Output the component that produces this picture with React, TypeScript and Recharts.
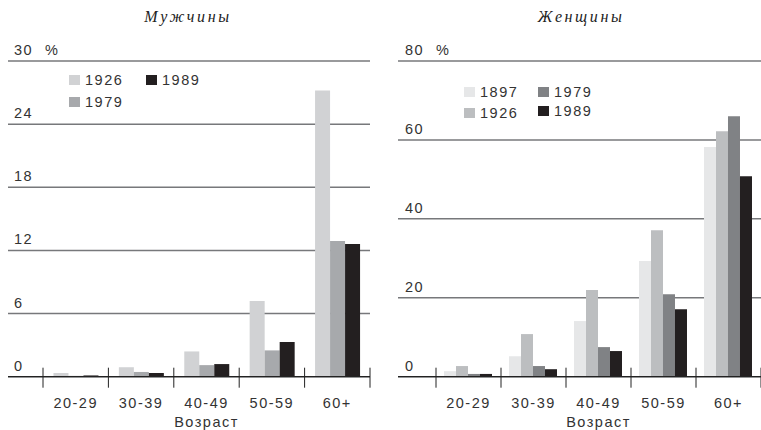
import React from 'react';
import { Bar, BarChart, CartesianGrid, XAxis, YAxis } from 'recharts';

const ageGroups = ['20-29', '30-39', '40-49', '50-59', '60+'];

// men, % by age group
const men1926 = [0.35, 0.9, 2.4, 7.2, 27.2];
const men1979 = [0.08, 0.45, 1.1, 2.5, 12.9];
const men1989 = [0.12, 0.35, 1.2, 3.3, 12.6];

// women, % by age group
const women1897 = [1.4, 5.2, 14.1, 29.3, 58.2];
const women1926 = [2.7, 10.8, 22.0, 37.1, 62.2];
const women1979 = [0.7, 2.7, 7.5, 20.9, 66.0];
const women1989 = [0.7, 1.9, 6.5, 17.1, 50.8];

const menTicks = [0, 6, 12, 18, 24, 30];
const womenTicks = [0, 20, 40, 60, 80];

const menData = ageGroups.map((age, i) => ({
  age,
  y1926: men1926[i],
  y1979: men1979[i],
  y1989: men1989[i],
}));

const womenData = ageGroups.map((age, i) => ({
  age,
  y1897: women1897[i],
  y1926: women1926[i],
  y1979: women1979[i],
  y1989: women1989[i],
}));

const H = 430;
const TOP = 61;
const AXIS_H = 53.3;
const AXIS_Y = H - AXIS_H;
const SANS = '"Liberation Sans", Arial, sans-serif';
const INK = '#333';

type TSeries = { key: string; name: string; color: string; lx: number; ly: number };

type TPanelProps = {
  title: string;
  titleX: number;
  left: number;
  width: number;
  marginRight: number;
  padLeft: number;
  labelX: number;
  ticks: number[];
  data: Record<string, string | number>[];
  series: TSeries[];
  gap: string;
};

const Panel = (p: TPanelProps) => {
  const plotW = p.width - 8 - p.marginRight;
  const bw = (plotW - p.padLeft) / ageGroups.length;
  const top = p.ticks[p.ticks.length - 1];

  const yTick = (props: any) => {
    const { y, payload } = props;
    return (
      <g>
        <text x={p.labelX} y={y - 6} fill={INK} fontSize={14.5} fontFamily={SANS} letterSpacing={1.5}>
          {payload.value}
        </text>
        {payload.value === top && (
          <text x={p.labelX + 31} y={y - 6} fill={INK} fontSize={14.5} fontFamily={SANS}>
            %
          </text>
        )}
      </g>
    );
  };

  const xTick = (props: any) => {
    const { x, payload, index } = props;
    return (
      <g>
        <line x1={x - bw / 2} x2={x - bw / 2} y1={AXIS_Y - 9} y2={AXIS_Y + 11} stroke="#222" />
        {index === ageGroups.length - 1 && (
          <line x1={x + bw / 2} x2={x + bw / 2} y1={AXIS_Y - 9} y2={AXIS_Y + 11} stroke="#222" />
        )}
        <text x={x} y={AXIS_Y + 31} textAnchor="middle" fill={INK} fontSize={14.5} fontFamily={SANS} letterSpacing={1.5}>
          {payload.value}
        </text>
        {index === 2 && (
          <text x={x} y={AXIS_Y + 50} textAnchor="middle" fill={INK} fontSize={14.5} fontFamily={SANS} letterSpacing={1.5}>
            Возраст
          </text>
        )}
      </g>
    );
  };

  return (
    <div style={{ position: 'absolute', left: p.left, top: 0, width: p.width, height: H }}>
      <div
        style={{
          position: 'absolute',
          left: p.titleX - p.left - 80,
          width: 160,
          top: 8,
          textAlign: 'center',
          fontFamily: '"Liberation Serif", "DejaVu Serif", serif',
          fontStyle: 'italic',
          fontSize: 16,
          letterSpacing: 2.6,
          color: '#222',
        }}
      >
        {p.title}
      </div>
      {p.series.map((s) => (
        <div
          key={s.key}
          style={{
            position: 'absolute',
            left: s.lx - p.left,
            top: s.ly,
            display: 'flex',
            alignItems: 'center',
            fontFamily: SANS,
            fontSize: 14.5,
            letterSpacing: 1.5,
            color: INK,
            lineHeight: '12px',
          }}
        >
          <span style={{ width: 11, height: 10, background: s.color, marginRight: 5 }} />
          {s.name}
        </div>
      ))}
      <BarChart
        width={p.width}
        height={H}
        data={p.data}
        margin={{ top: TOP, right: p.marginRight, bottom: 0, left: 8 }}
        barCategoryGap={p.gap}
        barGap={0}
      >
        <CartesianGrid horizontal vertical={false} stroke="#77787b" strokeWidth={1.5} />
        <XAxis
          dataKey="age"
          height={AXIS_H}
          padding={{ left: p.padLeft, right: 0 }}
          interval={0}
          tickLine={false}
          axisLine={{ stroke: '#222', strokeWidth: 1.2 }}
          tick={xTick}
        />
        <YAxis
          mirror
          domain={[0, top]}
          ticks={p.ticks}
          interval={0}
          tickLine={false}
          axisLine={false}
          tick={yTick}
        />
        {p.series.map((s) => (
          <Bar key={s.key} dataKey={s.key} name={s.name} fill={s.color} isAnimationActive={false} />
        ))}
      </BarChart>
    </div>
  );
};

export default function App() {
  return (
    <div style={{ position: 'absolute', left: 0, top: 0, width: 761, height: H, background: '#fff' }}>
      <Panel
        title="Мужчины"
        titleX={188}
        left={0}
        width={380}
        marginRight={10}
        padLeft={35}
        labelX={14}
        ticks={menTicks}
        data={menData}
        gap="16%"
        series={[
          { key: 'y1926', name: '1926', color: '#d1d2d4', lx: 69, ly: 74 },
          { key: 'y1979', name: '1979', color: '#a7a9ac', lx: 69, ly: 96 },
          { key: 'y1989', name: '1989', color: '#231f20', lx: 146, ly: 74 },
        ]}
      />
      <Panel
        title="Женщины"
        titleX={581}
        left={390}
        width={371}
        marginRight={0}
        padLeft={38}
        labelX={15}
        ticks={womenTicks}
        data={womenData}
        gap="12.3%"
        series={[
          { key: 'y1897', name: '1897', color: '#e6e7e8', lx: 464, ly: 86 },
          { key: 'y1926', name: '1926', color: '#bcbec0', lx: 464, ly: 107 },
          { key: 'y1979', name: '1979', color: '#808285', lx: 538, ly: 86 },
          { key: 'y1989', name: '1989', color: '#231f20', lx: 538, ly: 105 },
        ]}
      />
    </div>
  );
}
